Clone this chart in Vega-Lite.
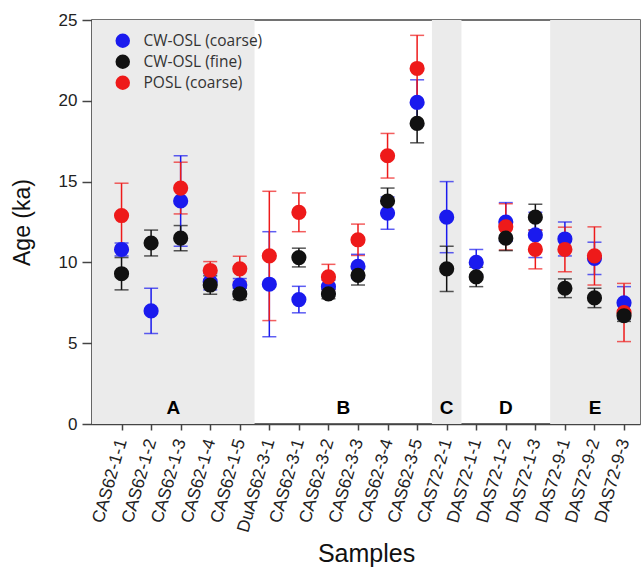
{
  "$schema": "https://vega.github.io/schema/vega-lite/v6.json",
  "autosize": "none",
  "width": 548,
  "height": 404,
  "padding": {"left": 92, "top": 20, "right": 3, "bottom": 146},
  "background": "white",
  "config": {
    "view": {"stroke": "#444", "strokeWidth": 1.5},
    "font": "Liberation Sans"
  },
  "datasets": {
    "groups": [
      {"group": "A", "start": 0, "end": 5.5, "shaded": true},
      {"group": "B", "start": 5.5, "end": 11.5, "shaded": false},
      {"group": "C", "start": 11.5, "end": 12.5, "shaded": true},
      {"group": "D", "start": 12.5, "end": 15.5, "shaded": false},
      {"group": "E", "start": 15.5, "end": 18.54, "shaded": true}
    ],
    "ages": [
      {"sample": "CAS62-1-1", "method": "CW-OSL (coarse)", "age": 10.8, "err": 0.4},
      {"sample": "CAS62-1-2", "method": "CW-OSL (coarse)", "age": 7.0, "err": 1.4},
      {"sample": "CAS62-1-3", "method": "CW-OSL (coarse)", "age": 13.8, "err": 2.8},
      {"sample": "CAS62-1-4", "method": "CW-OSL (coarse)", "age": 8.8, "err": 0.5},
      {"sample": "CAS62-1-5", "method": "CW-OSL (coarse)", "age": 8.6, "err": 0.4},
      {"sample": "DuAS62-3-1", "method": "CW-OSL (coarse)", "age": 8.65, "err": 3.25},
      {"sample": "CAS62-3-1", "method": "CW-OSL (coarse)", "age": 7.7, "err": 0.82},
      {"sample": "CAS62-3-2", "method": "CW-OSL (coarse)", "age": 8.5, "err": 0.4},
      {"sample": "CAS62-3-3", "method": "CW-OSL (coarse)", "age": 9.75, "err": 0.75},
      {"sample": "CAS62-3-4", "method": "CW-OSL (coarse)", "age": 13.05, "err": 1.0},
      {"sample": "CAS62-3-5", "method": "CW-OSL (coarse)", "age": 19.9, "err": 1.4},
      {"sample": "CAS72-2-1", "method": "CW-OSL (coarse)", "age": 12.8, "err": 2.2},
      {"sample": "DAS72-1-1", "method": "CW-OSL (coarse)", "age": 10.0, "err": 0.8},
      {"sample": "DAS72-1-2", "method": "CW-OSL (coarse)", "age": 12.5, "err": 1.2},
      {"sample": "DAS72-1-3", "method": "CW-OSL (coarse)", "age": 11.7, "err": 1.4},
      {"sample": "DAS72-9-1", "method": "CW-OSL (coarse)", "age": 11.45, "err": 1.05},
      {"sample": "DAS72-9-2", "method": "CW-OSL (coarse)", "age": 10.25, "err": 1.0},
      {"sample": "DAS72-9-3", "method": "CW-OSL (coarse)", "age": 7.5, "err": 1.0},
      {"sample": "CAS62-1-1", "method": "POSL (coarse)", "age": 12.9, "err": 2.0},
      {"sample": "CAS62-1-3", "method": "POSL (coarse)", "age": 14.6, "err": 1.6},
      {"sample": "CAS62-1-4", "method": "POSL (coarse)", "age": 9.5, "err": 0.55},
      {"sample": "CAS62-1-5", "method": "POSL (coarse)", "age": 9.6, "err": 0.78},
      {"sample": "DuAS62-3-1", "method": "POSL (coarse)", "age": 10.4, "err": 4.0},
      {"sample": "CAS62-3-1", "method": "POSL (coarse)", "age": 13.1, "err": 1.2},
      {"sample": "CAS62-3-2", "method": "POSL (coarse)", "age": 9.1, "err": 0.78},
      {"sample": "CAS62-3-3", "method": "POSL (coarse)", "age": 11.4, "err": 0.97},
      {"sample": "CAS62-3-4", "method": "POSL (coarse)", "age": 16.6, "err": 1.38},
      {"sample": "CAS62-3-5", "method": "POSL (coarse)", "age": 22.0, "err": 2.05},
      {"sample": "DAS72-1-2", "method": "POSL (coarse)", "age": 12.2, "err": 1.43},
      {"sample": "DAS72-1-3", "method": "POSL (coarse)", "age": 10.8, "err": 1.2},
      {"sample": "DAS72-9-1", "method": "POSL (coarse)", "age": 10.8, "err": 1.38},
      {"sample": "DAS72-9-2", "method": "POSL (coarse)", "age": 10.4, "err": 1.8},
      {"sample": "DAS72-9-3", "method": "POSL (coarse)", "age": 6.9, "err": 1.8},
      {"sample": "CAS62-1-1", "method": "CW-OSL (fine)", "age": 9.3, "err": 1.0},
      {"sample": "CAS62-1-2", "method": "CW-OSL (fine)", "age": 11.2, "err": 0.8},
      {"sample": "CAS62-1-3", "method": "CW-OSL (fine)", "age": 11.5, "err": 0.78},
      {"sample": "CAS62-1-4", "method": "CW-OSL (fine)", "age": 8.6, "err": 0.57},
      {"sample": "CAS62-1-5", "method": "CW-OSL (fine)", "age": 8.05, "err": 0.35},
      {"sample": "CAS62-3-1", "method": "CW-OSL (fine)", "age": 10.3, "err": 0.58},
      {"sample": "CAS62-3-2", "method": "CW-OSL (fine)", "age": 8.05, "err": 0.3},
      {"sample": "CAS62-3-3", "method": "CW-OSL (fine)", "age": 9.2, "err": 0.6},
      {"sample": "CAS62-3-4", "method": "CW-OSL (fine)", "age": 13.8, "err": 0.8},
      {"sample": "CAS62-3-5", "method": "CW-OSL (fine)", "age": 18.6, "err": 1.2},
      {"sample": "CAS72-2-1", "method": "CW-OSL (fine)", "age": 9.6, "err": 1.4},
      {"sample": "DAS72-1-1", "method": "CW-OSL (fine)", "age": 9.1, "err": 0.6},
      {"sample": "DAS72-1-2", "method": "CW-OSL (fine)", "age": 11.5, "err": 0.77},
      {"sample": "DAS72-1-3", "method": "CW-OSL (fine)", "age": 12.8, "err": 0.8},
      {"sample": "DAS72-9-1", "method": "CW-OSL (fine)", "age": 8.4, "err": 0.58},
      {"sample": "DAS72-9-2", "method": "CW-OSL (fine)", "age": 7.8, "err": 0.6},
      {"sample": "DAS72-9-3", "method": "CW-OSL (fine)", "age": 6.7, "err": 0.35}
    ]
  },
  "resolve": {"scale": {"x": "independent"}},
  "layer": [
    {
      "data": {"name": "groups"},
      "transform": [{"calculate": "(datum.start + datum.end) / 2", "as": "mid"}],
      "layer": [
        {
          "transform": [{"filter": "datum.shaded"}],
          "mark": {"type": "rect", "color": "#ebebeb"},
          "encoding": {
            "x": {"field": "start", "type": "quantitative", "scale": {"domain": [0, 18.54], "nice": false, "zero": false}, "axis": null},
            "x2": {"field": "end"}
          }
        },
        {
          "mark": {"type": "text", "fontSize": 19, "fontWeight": "bold", "color": "#000", "baseline": "middle", "font": "Liberation Sans"},
          "encoding": {
            "x": {"field": "mid", "type": "quantitative", "scale": {"domain": [0, 18.54], "nice": false, "zero": false}, "axis": null},
            "y": {"datum": 1, "type": "quantitative"},
            "text": {"field": "group"}
          }
        }
      ]
    },
    {
      "data": {"name": "ages"},
      "encoding": {
        "x": {
          "field": "sample", "type": "nominal", "sort": null,
          "scale": {"type": "point", "padding": 0.77, "align": 0.649},
          "axis": {
            "title": "Samples", "titleFontSize": 25, "titleFontWeight": "normal", "titleColor": "#111", "titlePadding": 8,
            "labelAngle": -74, "labelFontSize": 17.5, "labelColor": "#222", "labelPadding": 9,
            "tickSize": 6, "tickColor": "#444", "tickWidth": 1.5, "domainColor": "#444", "domainWidth": 1.5, "grid": false
          }
        },
        "y": {
          "field": "age", "type": "quantitative",
          "scale": {"domain": [0, 25], "nice": false},
          "axis": {
            "title": "Age (ka)", "titleFontSize": 23, "titleFontWeight": "normal", "titleColor": "#111", "titlePadding": 24,
            "values": [0, 5, 10, 15, 20, 25], "labelFontSize": 17, "labelColor": "#222", "labelPadding": 5,
            "tickSize": 10, "tickColor": "#444", "tickWidth": 1.5, "domainColor": "#444", "domainWidth": 1.5, "grid": false
          }
        },
        "color": {
          "field": "method", "type": "nominal",
          "scale": {"domain": ["CW-OSL (coarse)", "CW-OSL (fine)", "POSL (coarse)"], "range": ["#1a1aee", "#111111", "#ee1a1a"]},
          "legend": {
            "title": null, "orient": "none", "legendX": 23, "legendY": 13, "symbolType": "circle", "symbolSize": 210,
            "symbolStrokeWidth": 0, "symbolOpacity": 1, "labelFontSize": 15.5, "labelFont": "Open Sans", "labelColor": "#333",
            "labelOffset": 13, "rowPadding": 4, "fillColor": null, "padding": 0
          }
        }
      },
      "layer": [
        {
          "mark": {"type": "errorbar", "ticks": {"size": 14, "thickness": 1.5}, "thickness": 1.5},
          "encoding": {
            "yError": {"field": "err"}
          }
        },
        {
          "mark": {"type": "point", "shape": "circle", "filled": true, "opacity": 1, "size": 230}
        }
      ]
    }
  ]
}
